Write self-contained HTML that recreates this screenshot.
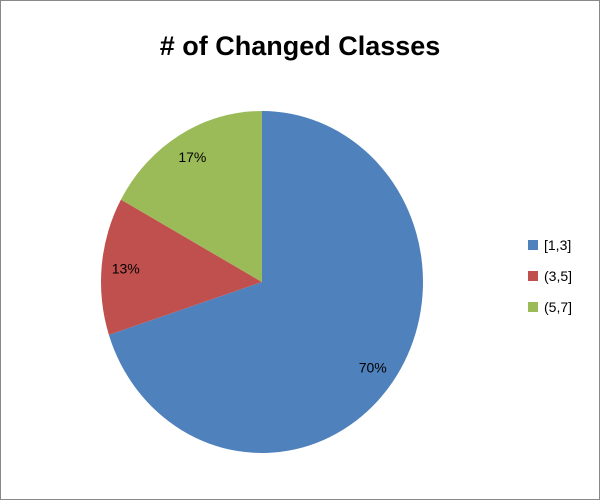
<!DOCTYPE html>
<html><head><meta charset="utf-8"><style>
html,body{margin:0;padding:0;background:#fff;}
#wrap{position:relative;width:598px;height:498px;border:1px solid #888;}
svg{position:absolute;left:0;top:0;}
</style></head><body>
<div id="wrap">
<svg id="chart" width="598" height="498">
<text x="299" y="54" text-anchor="middle" font-family="Liberation Sans, sans-serif" font-weight="bold" font-size="27" fill="#000"># of Changed Classes</text>
</svg>
</div>
<script>
const categories = ["[1,3]", "(3,5]", "(5,7]"];
const values = [70, 13, 17];
const labels = ["70%", "13%", "17%"];
const colors = ["#4F81BD", "#C0504D", "#9BBB59"];
const svg = document.getElementById('chart');
const NS = "http://www.w3.org/2000/svg";
const cx = 261, cy = 281, RX = 161, RY = 171;
const total = values.reduce((a,b)=>a+b,0);
function pt(a, k){ return [cx + k*RX*Math.sin(a), cy - k*RY*Math.cos(a)]; }
let acc = 0;
values.forEach((v,i)=>{
  const a0 = acc/total*2*Math.PI; acc += v; const a1 = acc/total*2*Math.PI;
  const p0 = pt(a0,1), p1 = pt(a1,1);
  const large = (a1-a0) > Math.PI ? 1 : 0;
  const path = document.createElementNS(NS,'path');
  path.setAttribute('d', `M${cx},${cy} L${p0[0]},${p0[1]} A${RX},${RY} 0 ${large} 1 ${p1[0]},${p1[1]} Z`);
  path.setAttribute('fill', colors[i]);
  
  
  svg.appendChild(path);
  const m = (a0+a1)/2; const lp = pt(m, 0.85);
  const t = document.createElementNS(NS,'text');
  t.setAttribute('x', lp[0]); t.setAttribute('y', lp[1]+5);
  t.setAttribute('text-anchor','middle');
  t.setAttribute('font-family','Liberation Sans, sans-serif');
  t.setAttribute('font-size','14');
  t.textContent = labels[i];
  
  
  svg.appendChild(t);
  const ly = 244 + i*31;
  const r = document.createElementNS(NS,'rect');
  r.setAttribute('x', 527); r.setAttribute('y', ly-5);
  r.setAttribute('width', 10); r.setAttribute('height', 10);
  r.setAttribute('fill', colors[i]);
  
  
  svg.appendChild(r);
  const lt = document.createElementNS(NS,'text');
  lt.setAttribute('x', 543); lt.setAttribute('y', ly+5);
  lt.setAttribute('font-family','Liberation Sans, sans-serif');
  lt.setAttribute('font-size','14');
  lt.textContent = categories[i];
  
  
  svg.appendChild(lt);
});
</script>
</body></html>
